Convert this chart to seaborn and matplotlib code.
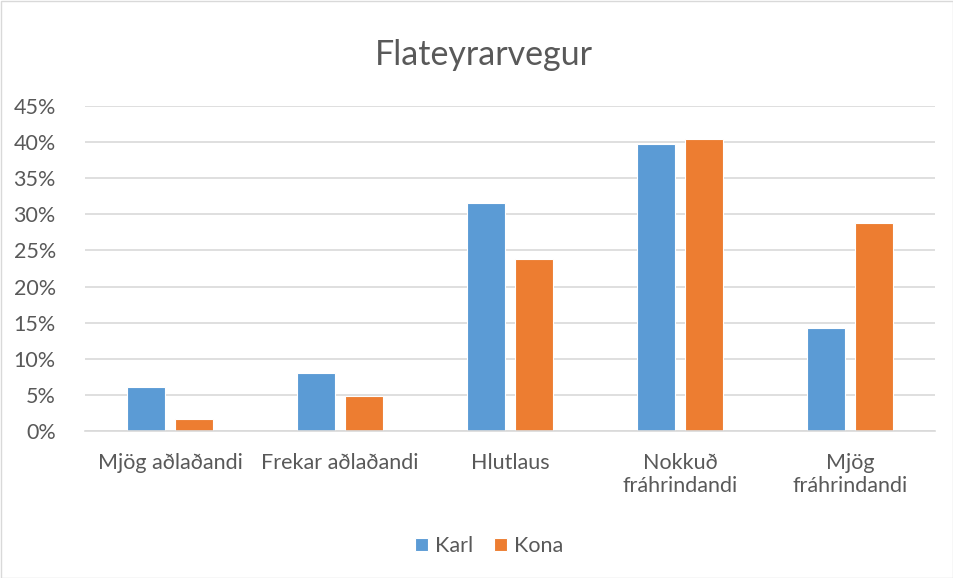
import matplotlib
matplotlib.use("Agg")
import matplotlib.pyplot as plt
import seaborn as sns
import pandas as pd
from matplotlib.patches import Rectangle
from matplotlib.ticker import FuncFormatter

categories = ["Mjög aðlaðandi", "Frekar aðlaðandi", "Hlutlaus", "Nokkuð\nfráhrindandi", "Mjög\nfráhrindandi"]
karl = [0.061, 0.081, 0.316, 0.397, 0.143]
kona = [0.017, 0.048, 0.238, 0.404, 0.288]
series = ["Karl", "Kona"]
colors = ["#5B9BD5", "#ED7D31"]
title = "Flateyrarvegur"

df = pd.DataFrame({
    "cat": categories * 2,
    "val": karl + kona,
    "sex": [series[0]] * len(categories) + [series[1]] * len(categories),
})

sns.set_theme(style="white")
plt.rcParams["font.family"] = ["Lato", "DejaVu Sans"]

fig = plt.figure(figsize=(9.54, 5.78), dpi=100)
ax = fig.add_axes([85/954, 1-431/578, (935-85)/954, (431-106)/578])

sns.barplot(data=df, x="cat", y="val", hue="sex", palette=colors, order=categories,
            hue_order=series, width=0.57, gap=0.22, ax=ax, legend=True,
            edgecolor="white", linewidth=0.8, saturation=1)

ax.set_ylim(0, 0.45)
ax.set_xlim(-0.5, len(categories) - 0.5)
ax.set_yticks([i * 0.05 for i in range(10)])
ax.yaxis.set_major_formatter(FuncFormatter(lambda v, p: f"{v*100:.0f}%"))
ax.grid(axis="y", color="#D9D9D9", linewidth=1.2)
ax.set_axisbelow(True)
for s in ["top", "right", "left"]:
    ax.spines[s].set_visible(False)
ax.spines["bottom"].set_color("#D9D9D9")
ax.spines["bottom"].set_linewidth(1.2)
ax.set_xlabel("")
ax.set_ylabel("")
ax.tick_params(axis="both", length=0, labelsize=15.5, labelcolor="#595959")
ax.tick_params(axis="x", pad=16)
ax.tick_params(axis="y", pad=21)

leg = ax.get_legend()
handles = leg.legend_handles
leg.remove()
fig.legend(handles, series, loc="center", bbox_to_anchor=(489/954, 1-546/578), ncol=2,
           frameon=False, fontsize=15.5, handlelength=0.6, handleheight=0.6,
           handletextpad=0.3, columnspacing=1.0, labelcolor="#595959")

fig.text(484/954, 1-55/578, title, ha="center", va="center", fontsize=24.5, color="#595959")

fig.patches.append(Rectangle((0.5/954, 0.5/578), 1-1/954, 1-1/578, transform=fig.transFigure,
                             fill=False, edgecolor="#D9D9D9", linewidth=1))

fig.savefig("out.png", dpi=100)
